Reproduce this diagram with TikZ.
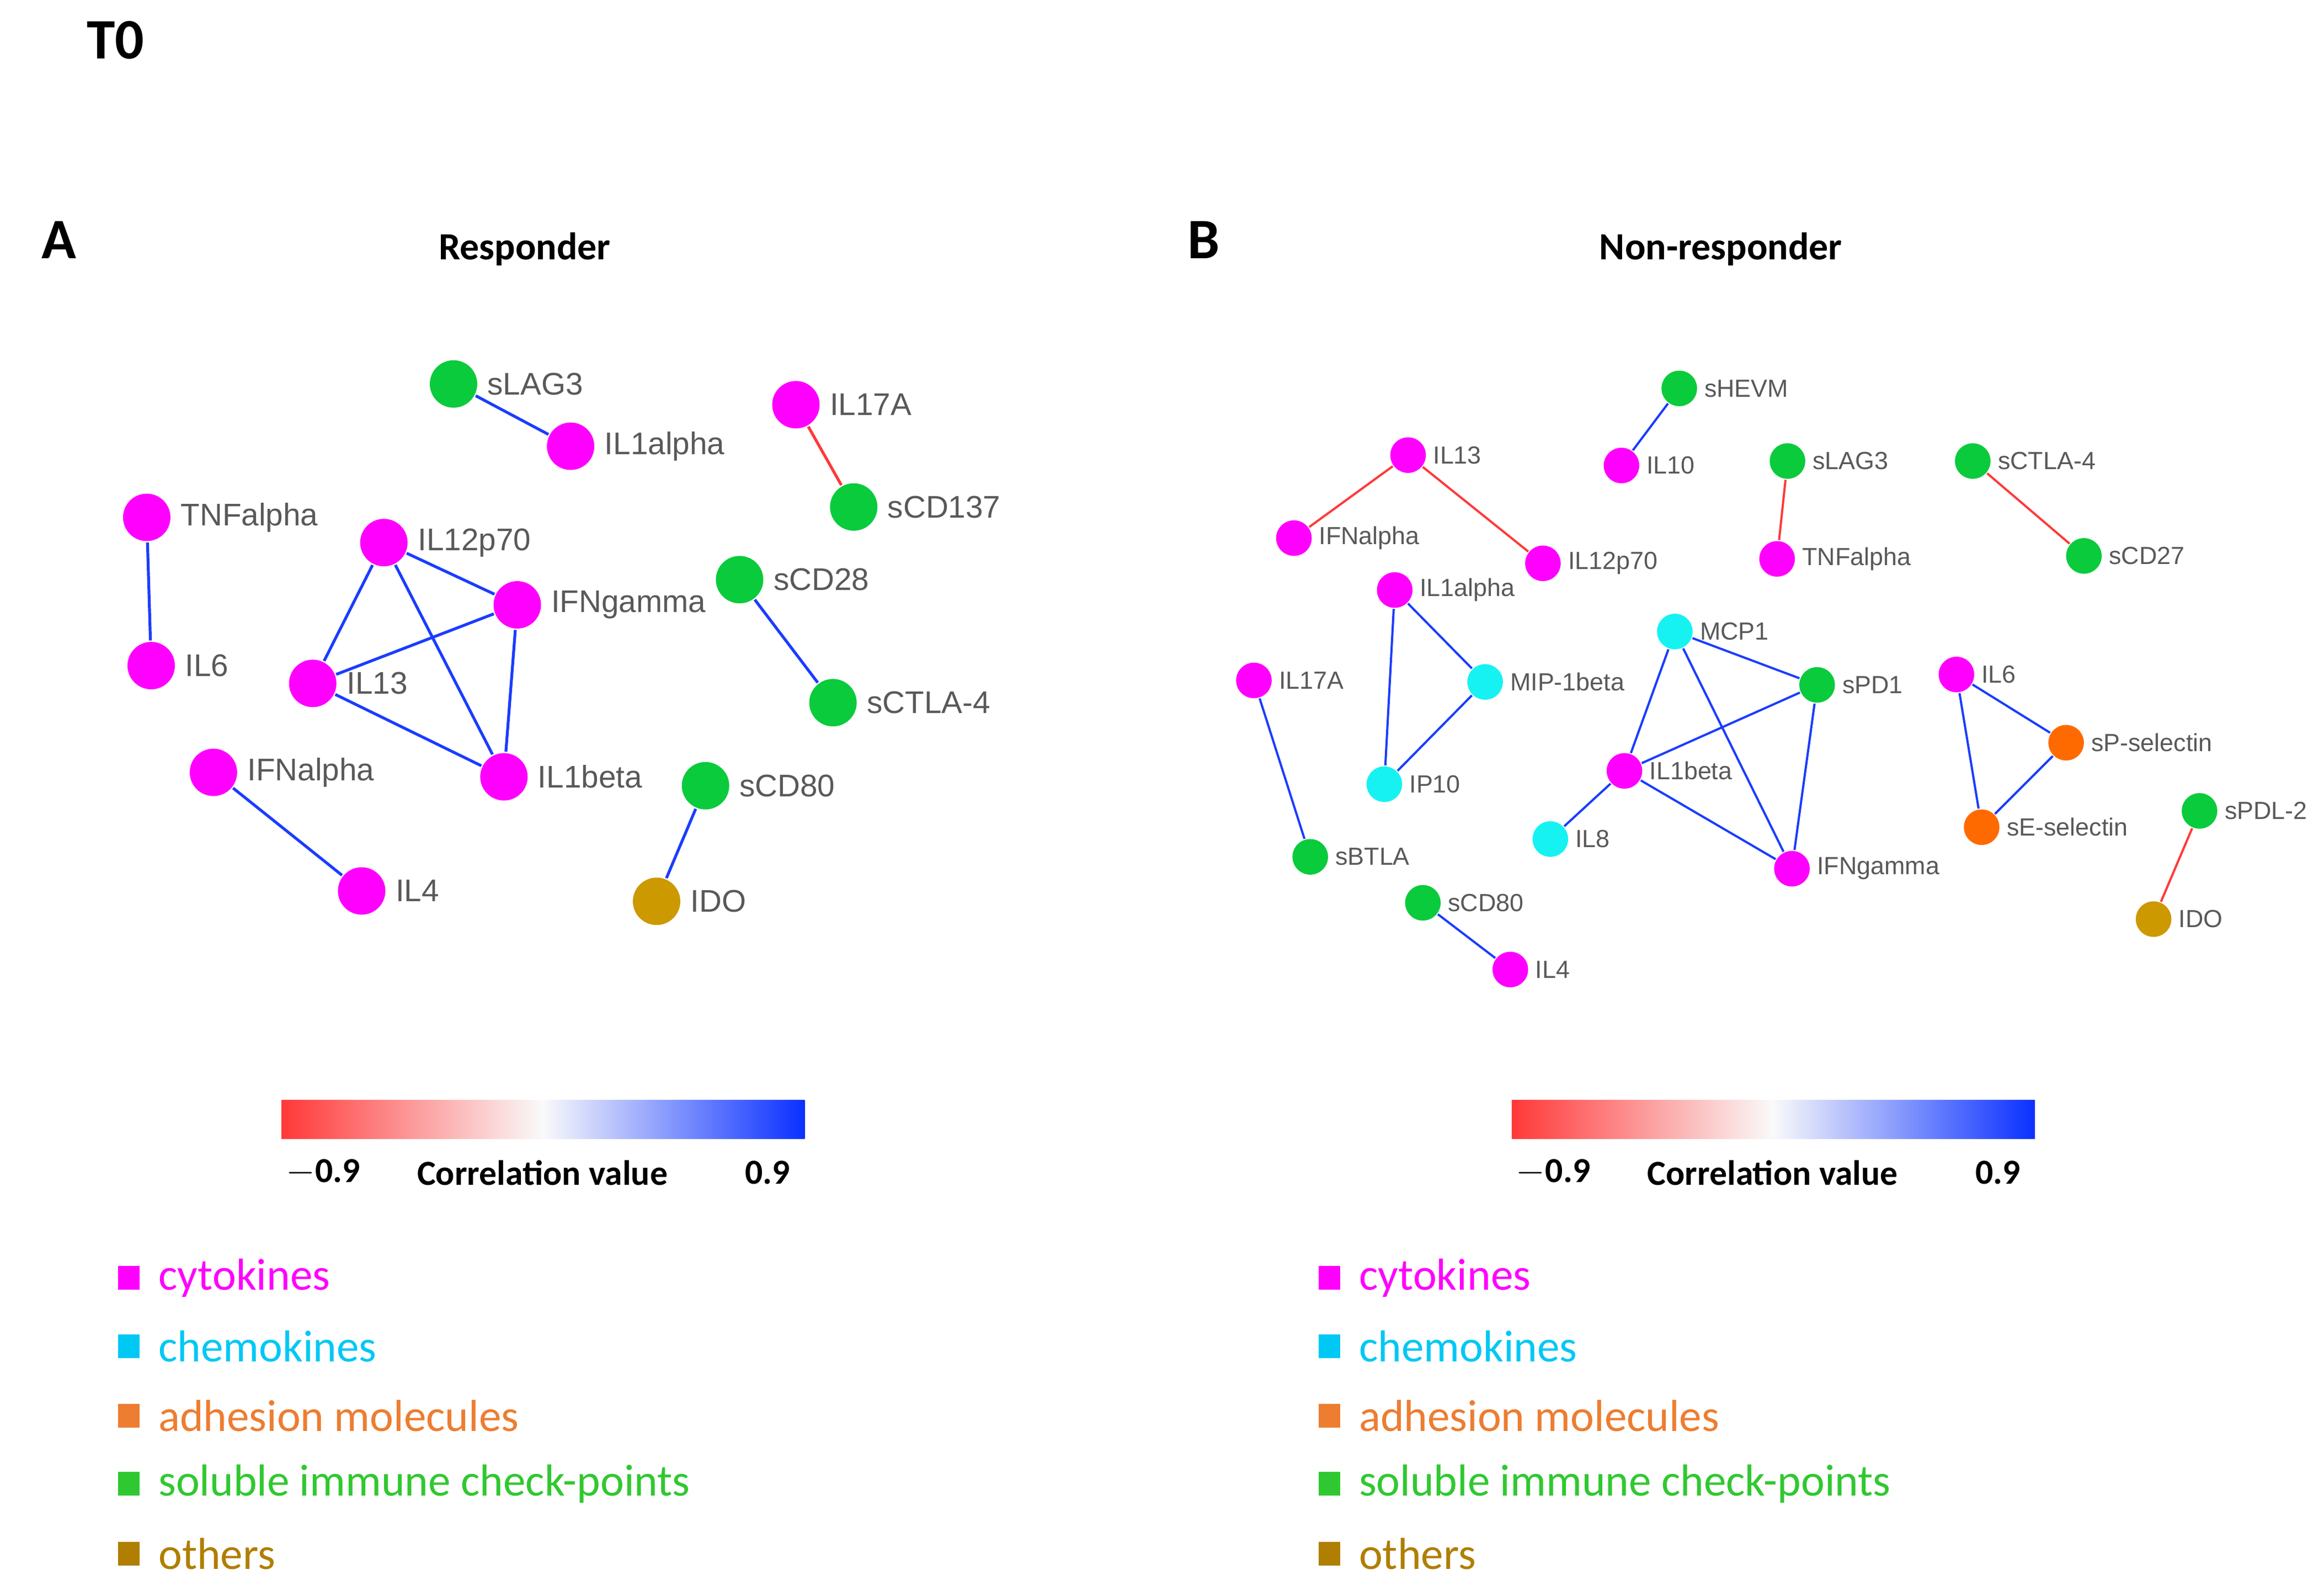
\documentclass[tikz,border=0pt]{standalone}
\usepackage{fontspec}
\setmainfont{Liberation Sans}
\newfontfamily\calib{Carlito}
\usepackage{tikz}
\definecolor{cyto}{HTML}{FF00FF}
\definecolor{chemo}{HTML}{16F2F2}
\definecolor{adhes}{HTML}{FF6A00}
\definecolor{check}{HTML}{0ACB3C}
\definecolor{other}{HTML}{CC9900}
\definecolor{chemotxt}{HTML}{00C8F5}
\definecolor{adhestxt}{HTML}{ED7D31}
\definecolor{checktxt}{HTML}{30C830}
\definecolor{othertxt}{HTML}{B07E00}
\definecolor{posblue}{HTML}{1A3CFF}
\definecolor{negred}{HTML}{FF3A3A}
\definecolor{barred}{HTML}{FF3838}
\definecolor{barblue}{HTML}{0A30FF}
\definecolor{lblgray}{HTML}{595959}

\begin{document}
\begin{tikzpicture}[x=0.02cm, y=-0.02cm,
    nd/.style={circle, inner sep=0pt},
    cy/.style={nd, fill=cyto}, ch/.style={nd, fill=chemo},
    ad/.style={nd, fill=adhes}, ck/.style={nd, fill=check},
    ot/.style={nd, fill=other},
    poscor/.style={draw=posblue}, negcor/.style={draw=negred},
    hd/.style={font=\calib\bfseries\fontsize{22}{24}\selectfont},
    ttl/.style={font=\calib\bfseries\fontsize{14.8}{16}\selectfont},
    cbl/.style={font=\calib\bfseries\fontsize{13.5}{15}\selectfont},
    sq/.style={minimum width=0.29cm, minimum height=0.32cm, inner sep=0pt},
    lgt/.style={font=\calib\fontsize{17.2}{19}\selectfont, inner xsep=0.24cm, inner ysep=0pt}]
        \useasboundingbox (0,0) rectangle (1568,1073);

        \node[hd] (t0) at (78, 27) {T0};
        \node[hd] (pa) at (40, 162) {A};
        \node[hd] (pb) at (812, 162) {B};
        \node[ttl] (ra) at (354, 168) {Responder};
        \node[ttl] (rb) at (1161, 168) {Non-responder};

        % responder network
        \begin{scope}[every node/.append style={minimum size=0.64cm},
            every label/.style={font=\fontsize{12}{14}\selectfont, text=lblgray, inner sep=0.1cm},
            line width=1.1pt]
        \node[ck, label=right:sLAG3]    (lag3a)  at (306, 259) {};
        \node[cy, label=right:IL1alpha] (il1aa)  at (385, 301) {};
        \node[cy, label=right:IL17A]    (il17a)  at (537, 273) {};
        \node[ck, label=right:sCD137]   (cd137a) at (576, 342) {};
        \node[cy, label=right:TNFalpha] (tnfa)   at ( 99, 349) {};
        \node[cy, label=right:IL6]      (il6a)   at (102, 449) {};
        \node[cy, label=right:IL12p70]  (il12a)  at (259, 366) {};
        \node[cy, label=right:IFNgamma] (ifnga)  at (349, 408) {};
        \node[cy, label=right:IL13]     (il13a)  at (211, 461) {};
        \node[cy, label=right:IL1beta]  (il1ba)  at (340, 524) {};
        \node[ck, label=right:sCD28]    (cd28a)  at (499, 391) {};
        \node[ck, label=right:sCTLA-4]  (ctlaa)  at (562, 474) {};
        \node[cy, label=right:IFNalpha] (ifnaa)  at (144, 521) {};
        \node[cy, label=right:IL4]      (il4a)   at (244, 601) {};
        \node[ck, label=right:sCD80]    (cd80a)  at (476, 530) {};
        \node[ot, label=right:IDO]      (idoa)   at (443, 608) {};

        \draw[poscor] (lag3a) edge (il1aa)
                   (tnfa) edge (il6a)
                   (il12a) edge (ifnga) (il12a) edge (il13a) (il12a) edge (il1ba)
                   (ifnga) edge (il13a) (ifnga) edge (il1ba) (il13a) edge (il1ba)
                   (cd28a) edge (ctlaa)
                   (ifnaa) edge (il4a)
                   (cd80a) edge (idoa);
        \draw[negcor] (il17a) edge (cd137a);
        \end{scope}

        % non-responder network
        \begin{scope}[every node/.append style={minimum size=0.48cm},
            every label/.style={font=\fontsize{9.5}{11}\selectfont, text=lblgray, inner sep=0.07cm},
            line width=0.85pt]
        \node[ck, label=right:sHEVM]       (hevmb)  at (1133, 262) {};
        \node[cy, label=right:IL10]        (il10b)  at (1094, 314) {};
        \node[cy, label=right:IL13]        (il13b)  at ( 950, 307) {};
        \node[cy, label=right:IFNalpha]    (ifnab)  at ( 873, 363) {};
        \node[cy, label=right:IL12p70]     (il12b)  at (1041, 380) {};
        \node[ck, label=right:sLAG3]       (lag3b)  at (1206, 311) {};
        \node[cy, label=right:TNFalpha]    (tnfb)   at (1199, 377) {};
        \node[ck, label=right:sCTLA-4]     (ctlab)  at (1331, 311) {};
        \node[ck, label=right:sCD27]       (cd27b)  at (1406, 375) {};
        \node[cy, label=right:IL1alpha]    (il1ab)  at ( 941, 398) {};
        \node[ch, label=right:MIP-1beta]   (mipb)   at (1002, 460) {};
        \node[ch, label=right:IP10]        (ip10b)  at ( 934, 529) {};
        \node[cy, label=right:IL17A]       (il17b)  at ( 846, 459) {};
        \node[ck, label=right:sBTLA]       (btlab)  at ( 884, 578) {};
        \node[ch, label=right:MCP1]        (mcpb)   at (1130, 426) {};
        \node[ck, label=right:sPD1]        (pd1b)   at (1226, 462) {};
        \node[cy, label=right:IL1beta]     (il1bb)  at (1096, 520) {};
        \node[ch, label=right:IL8]         (il8b)   at (1046, 566) {};
        \node[cy, label=right:IFNgamma]    (ifngb)  at (1209, 586) {};
        \node[cy, label=right:IL6]         (il6b)   at (1320, 455) {};
        \node[ad, label=right:sP-selectin] (pselb)  at (1394, 501) {};
        \node[ad, label=right:sE-selectin] (eselb)  at (1337, 558) {};
        \node[ck, label=right:sPDL-2]      (pdl2b)  at (1484, 547) {};
        \node[ot, label=right:IDO]         (idob)   at (1453, 620) {};
        \node[ck, label=right:sCD80]       (cd80b)  at ( 960, 609) {};
        \node[cy, label=right:IL4]         (il4b)   at (1019, 654) {};

        \draw[poscor] (hevmb) edge (il10b)
                   (il1ab) edge (mipb) (il1ab) edge (ip10b) (mipb) edge (ip10b)
                   (il17b) edge (btlab)
                   (mcpb) edge (pd1b) (mcpb) edge (il1bb) (mcpb) edge (ifngb)
                   (pd1b) edge (il1bb) (pd1b) edge (ifngb) (il1bb) edge (ifngb)
                   (il1bb) edge (il8b)
                   (il6b) edge (pselb) (il6b) edge (eselb) (pselb) edge (eselb)
                   (cd80b) edge (il4b);
        \draw[negcor] (il13b) edge (ifnab) (il13b) edge (il12b)
                   (lag3b) edge (tnfb)
                   (ctlab) edge (cd27b)
                   (pdl2b) edge (idob);
        \end{scope}

        % colour bars
        \shade[left color=barred, right color=white!96!gray] (190, 742) rectangle (366, 768);
        \shade[left color=white!96!gray, right color=barblue] (366, 742) rectangle (543, 768);
        \shade[left color=barred, right color=white!96!gray] (1020, 742) rectangle (1196, 768);
        \shade[left color=white!96!gray, right color=barblue] (1196, 742) rectangle (1373, 768);
        \node[cbl] (mina) at (218, 791) {$-$0.9};
        \node[cbl] (cva)  at (366, 791) {Correlation value};
        \node[cbl] (maxa) at (518, 791) {0.9};
        \node[cbl] (minb) at (1048, 791) {$-$0.9};
        \node[cbl] (cvb)  at (1196, 791) {Correlation value};
        \node[cbl] (maxb) at (1348, 791) {0.9};

        % legends
        \node[sq, fill=cyto,  label={[lgt, text=cyto]right:cytokines}]                     (lca) at (87, 862) {};
        \node[sq, fill=chemotxt, label={[lgt, text=chemotxt]right:chemokines}]            (lma) at (87, 908) {};
        \node[sq, fill=adhestxt, label={[lgt, text=adhestxt]right:adhesion molecules}]    (laa) at (87, 955) {};
        \node[sq, fill=checktxt, label={[lgt, text=checktxt]right:soluble immune check-points}] (lka) at (87, 1001) {};
        \node[sq, fill=othertxt, label={[lgt, text=othertxt]right:others}]                (loa) at (87, 1048) {};
        \node[sq, fill=cyto,  label={[lgt, text=cyto]right:cytokines}]                     (lcb) at (897, 862) {};
        \node[sq, fill=chemotxt, label={[lgt, text=chemotxt]right:chemokines}]            (lmb) at (897, 908) {};
        \node[sq, fill=adhestxt, label={[lgt, text=adhestxt]right:adhesion molecules}]    (lab) at (897, 955) {};
        \node[sq, fill=checktxt, label={[lgt, text=checktxt]right:soluble immune check-points}] (lkb) at (897, 1001) {};
        \node[sq, fill=othertxt, label={[lgt, text=othertxt]right:others}]                (lob) at (897, 1048) {};

      \end{tikzpicture}
\end{document}
